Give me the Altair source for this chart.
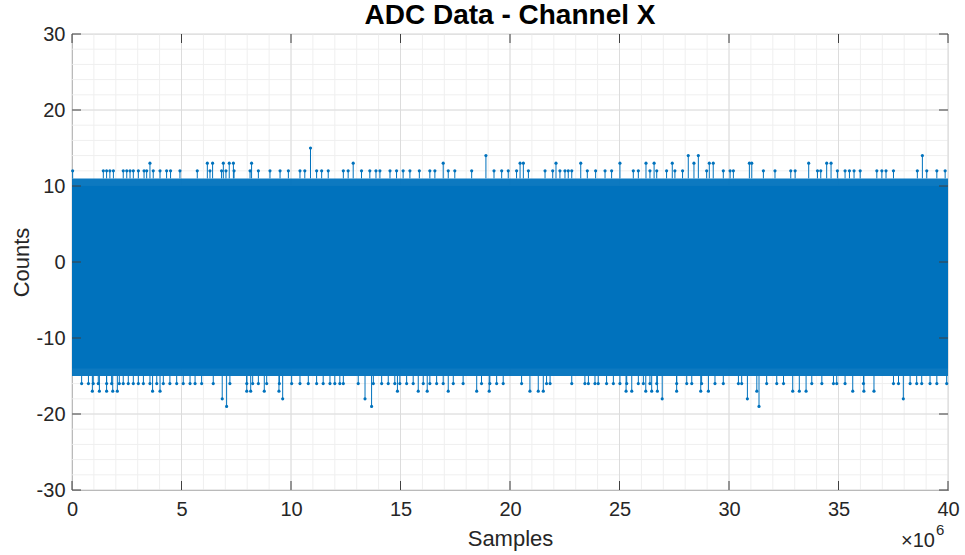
import altair as alt
import pandas as pd

BLUE = "#0072BD"
FONT = "Liberation Sans"
W, H = 876, 456

# x values are in units of 1e6 samples
x_start, x_end = 0, 40
core_low, core_high = -14, 10
fringe_low, fringe_high = -15, 11

# upward excursions (x positions, 1e6 samples) per level
up12 = [0.03, 1.43, 1.58, 1.73, 1.89, 2.34, 2.50, 2.65, 2.80, 3.03, 3.29, 3.41, 3.71, 4.02, 4.32,
        4.50, 4.93, 5.72, 6.30, 6.83, 7.03, 7.40, 8.13, 8.51, 9.04, 9.50, 9.88,
        10.41, 10.63, 11.17, 11.40, 11.70, 12.39, 12.61, 13.22, 13.60, 13.88, 14.06, 14.52, 14.82,
        15.12, 15.43, 15.86, 16.34, 16.57, 17.18, 17.48, 18.25, 19.27, 19.62, 19.92,
        20.30, 20.84, 21.60, 21.95, 22.28, 22.51, 22.66, 22.82, 23.53, 23.91, 24.34, 24.64, 25.63,
        25.86, 26.39, 26.70, 27.15, 27.53, 27.88, 28.98, 29.74, 30.05,
        30.20, 31.57, 32.10, 32.82, 33.02, 34.04, 34.19, 34.95, 35.30, 35.50, 35.71, 35.99, 36.75,
        36.98, 37.17, 37.51, 38.60, 39.03, 39.49, 39.87]
up13 = [3.56, 6.18, 6.42, 6.91, 7.18, 7.37, 8.20, 12.84, 16.95, 20.46, 20.61, 22.10, 23.23,
        25.02, 26.21, 26.58, 27.41, 28.40, 29.10, 29.28, 30.93, 31.04, 33.64, 34.46, 34.66]
up14 = [18.90, 28.14, 28.60, 38.83]
up15 = [10.89]

# downward excursions per level
dn16 = [0.44, 0.75, 0.97, 1.20, 1.58, 1.81, 2.16, 2.34, 2.57, 2.80, 3.03, 3.26, 3.56, 3.87, 4.17,
        4.47, 4.78, 5.08, 5.39, 5.62, 5.92, 6.45, 7.21, 7.98, 8.25, 8.51, 8.89, 9.47,
        10.03, 10.41, 10.79, 11.17, 11.47, 11.78, 12.00, 12.23, 12.39, 13.07, 13.76, 14.14, 14.44,
        14.74, 14.97, 15.28, 15.58, 16.04, 16.34, 16.65, 16.95, 17.41, 17.86, 18.70, 19.08, 19.39,
        19.69, 20.53, 21.67, 21.83, 22.82, 23.42, 23.58, 23.88, 24.03, 24.41, 24.72, 25.02, 25.33,
        25.86, 26.09, 26.39, 26.70, 27.61, 28.07, 28.30, 28.75, 29.36, 29.74,
        30.43, 30.58, 31.72, 32.18, 32.49, 33.78, 34.24, 34.77, 34.92, 35.30, 36.14, 37.51, 37.74,
        38.27, 38.57, 38.80, 39.18, 39.49, 39.94]
dn17 = [0.93, 1.25, 1.58, 1.86, 2.07, 3.68, 4.02, 7.98, 8.16, 8.78, 9.45, 14.86, 15.81, 16.22,
        17.18, 18.48, 19.05, 20.91, 21.29, 21.52, 25.30, 25.56, 26.20, 26.47, 26.73, 27.61, 28.71,
        29.06, 31.27, 32.91, 33.21, 33.52, 35.65, 36.16, 36.62]
dn18 = [6.86, 9.62, 13.38, 26.95, 30.84, 37.96]
dn19 = [7.06, 13.68, 31.37]

x_major = [0, 5, 10, 15, 20, 25, 30, 35, 40]
x_minor = list(range(0, 41))
y_major = [-30, -20, -10, 0, 10, 20, 30]
y_minor = list(range(-30, 31, 2))

title_text = "ADC Data - Channel X"

rows = []
for lvl, xs_ in [(12, up12), (13, up13), (14, up14), (15, up15)]:
    rows += [{"x": v, "y": lvl, "base": fringe_high} for v in xs_]
for lvl, xs_ in [(-16, dn16), (-17, dn17), (-18, dn18), (-19, dn19)]:
    rows += [{"x": v, "y": lvl, "base": fringe_low} for v in xs_]
spikes = pd.DataFrame(rows)

xs = alt.Scale(domain=[x_start, x_end], nice=False, zero=False)
ys = alt.Scale(domain=[-30, 30], nice=False, zero=False)

AX = dict(labelFont=FONT, labelFontSize=20, labelColor="#262626", titleFont=FONT,
          titleFontSize=22, titleFontWeight="normal", titleColor="#262626",
          domainColor="#404040", domainWidth=1, ticks=False, grid=False, labelFlush=False,
          labelExpr="toString(datum.value)")
X_AX = alt.Axis(values=x_major, title="Samples", labelPadding=9, titlePadding=9, **AX)
Y_AX = alt.Axis(values=y_major, title="Counts", labelPadding=7, titlePadding=3, **AX)


def X(f):
    return alt.X(f, scale=xs, axis=X_AX, title="Samples")


def Y(f):
    return alt.Y(f, scale=ys, axis=Y_AX, title="Counts")


minor_x = alt.Chart(pd.DataFrame({"x": x_minor})).mark_rule(color="#efefef", strokeWidth=1).encode(
    x=X("x:Q"))
minor_y = alt.Chart(pd.DataFrame({"y": y_minor})).mark_rule(color="#efefef", strokeWidth=1).encode(
    y=Y("y:Q"))
major_x = alt.Chart(pd.DataFrame({"x": x_major})).mark_rule(color="#dcdcdc", strokeWidth=1).encode(
    x=X("x:Q"))
major_y = alt.Chart(pd.DataFrame({"y": y_major})).mark_rule(color="#dcdcdc", strokeWidth=1).encode(
    y=Y("y:Q"))

band_df = pd.DataFrame({"x": [x_start], "x2": [x_end],
                        "lo": [core_low], "hi": [core_high],
                        "flo": [fringe_low], "fhi": [fringe_high]})

fringe = alt.Chart(band_df).mark_rect(color=BLUE, opacity=0.95).encode(
    x=X("x:Q"), x2="x2:Q", y=Y("flo:Q"), y2="fhi:Q")

core = alt.Chart(band_df).mark_rect(color=BLUE).encode(
    x=X("x:Q"), x2="x2:Q", y=Y("lo:Q"), y2="hi:Q")

stems = alt.Chart(spikes).mark_rule(color=BLUE, strokeWidth=1).encode(
    x=X("x:Q"), y=Y("base:Q"), y2="y:Q")
dots = alt.Chart(spikes).mark_circle(color=BLUE, size=10, opacity=1).encode(
    x=X("x:Q"), y=Y("y:Q"))

TK = "#404040"
xt_df = pd.DataFrame({"x": x_major})
yt_df = pd.DataFrame({"y": y_major})
tick_b = alt.Chart(xt_df).mark_rule(color=TK).encode(
    x=X("x:Q"), y=alt.value(H), y2=alt.value(H - 9))
tick_t = alt.Chart(xt_df).mark_rule(color=TK).encode(
    x=X("x:Q"), y=alt.value(0), y2=alt.value(9))
tick_l = alt.Chart(yt_df).mark_rule(color=TK).encode(
    y=Y("y:Q"), x=alt.value(0), x2=alt.value(9))
tick_r = alt.Chart(yt_df).mark_rule(color=TK).encode(
    y=Y("y:Q"), x=alt.value(W - 9), x2=alt.value(W))

exp_df = pd.DataFrame({"t": ["\u00d710"], "e": ["6"], "title": [title_text]})
exp_base = alt.Chart(exp_df).mark_text(font=FONT, fontSize=20, color="#262626", align="right",
                                       baseline="middle").encode(
    text="t:N", x=alt.value(W - 13), y=alt.value(H + 51))
exp_pow = alt.Chart(exp_df).mark_text(font=FONT, fontSize=15, color="#262626", align="left",
                                      baseline="middle").encode(
    text="e:N", x=alt.value(W - 12), y=alt.value(H + 40))
title_mark = alt.Chart(exp_df).mark_text(font=FONT, fontSize=28, fontWeight="bold", color="#000000",
                                         align="center", baseline="top").encode(
    text="title:N", x=alt.value(W / 2), y=alt.value(-32))

chart = alt.layer(
    minor_x, minor_y, major_x, major_y, fringe, core, stems, dots,
    tick_b, tick_t, tick_l, tick_r, exp_base, exp_pow, title_mark
).properties(
    width=W, height=H,
    autosize=alt.AutoSizeParams(type="none"),
    padding={"left": 72, "top": 34, "right": 17, "bottom": 65},
).configure_view(stroke="#404040", strokeWidth=1).configure(background="white")

chart.save("out.html", embed_options={"renderer": "svg", "actions": False})
